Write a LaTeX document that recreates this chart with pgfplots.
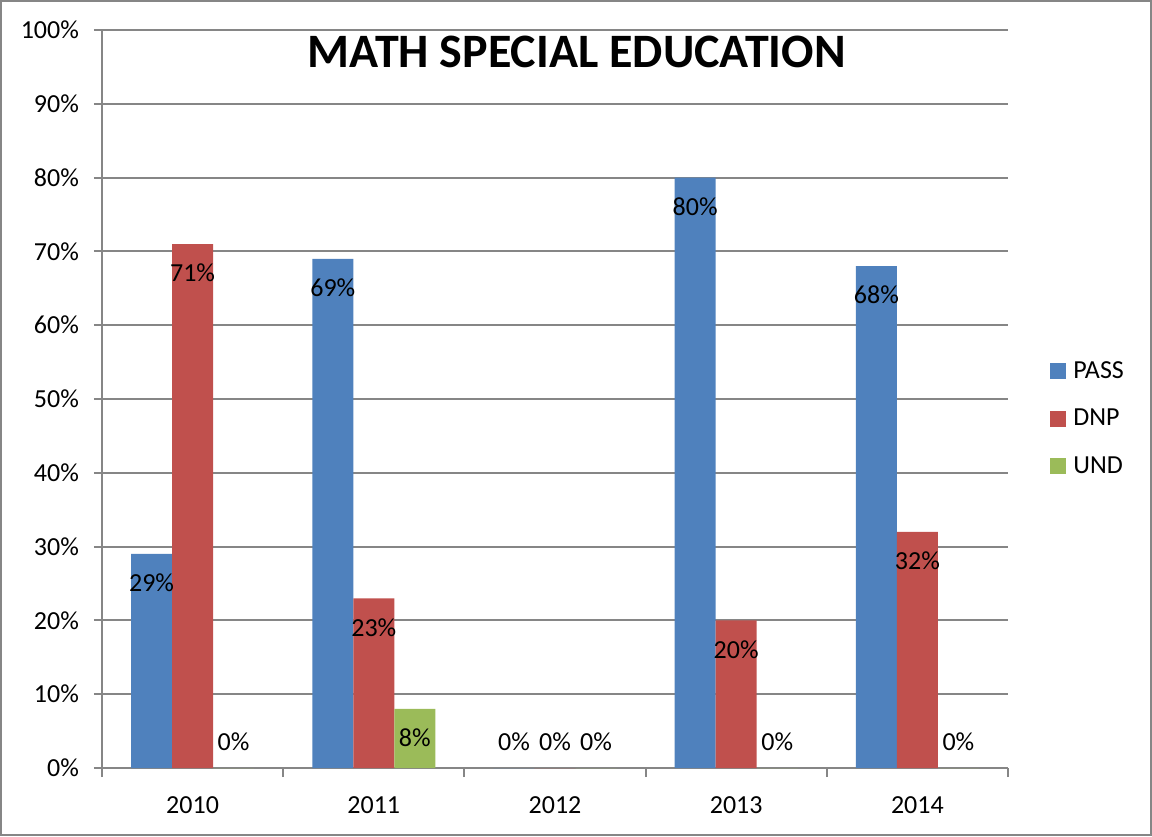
\documentclass[border=0pt]{standalone}
\usepackage{pgfplots}
\pgfplotsset{compat=1.18}
\usepackage{fontspec}
\setmainfont{Carlito}

\definecolor{passblue}{HTML}{4F81BD}
\definecolor{dnpred}{HTML}{C0504D}
\definecolor{undgreen}{HTML}{9BBB59}
\definecolor{linegray}{HTML}{868686}

\begin{document}
\begin{tikzpicture}
	\begin{axis}[
		at={(0,0)}, anchor=south west,
		scale only axis,
		width=453pt, height=369pt,
		ybar=0pt,
		bar width=0.2263,
		xmin=-0.5, xmax=4.5,
		ymin=0, ymax=100,
		xtick={0,1,2,3,4},
		xticklabels={2010,2011,2012,2013,2014},
		minor xtick={-0.5,0.5,1.5,2.5,3.5,4.5},
		ytick={0,10,...,100},
		yticklabel={\pgfmathprintnumber{\tick}\%},
		/pgf/number format/assume math mode=true,
		axis x line*=bottom,
		axis y line*=left,
		axis line style={draw=linegray, line width=1pt, -},
		tick align=outside,
		major tick length=4pt,
		minor tick length=4.5pt,
		major x tick style={draw=none},
		tick style={draw=linegray, line width=1pt},
		ymajorgrids,
		grid style={draw=linegray, line width=1pt},
		ticklabel style={font=\fontsize{13}{15}\selectfont},
		x tick label style={yshift=-7pt},
		y tick label style={xshift=-4pt},
		title={MATH SPECIAL EDUCATION},
		title style={at={(0.524,0.954)}, anchor=center, font=\bfseries\fontsize{24}{28}\selectfont},
		legend style={at={(1.0464,0.473)}, anchor=west, draw=none, fill=none,
			inner sep=0pt, row sep=12.75pt,
			nodes={inner sep=0pt, text height=9pt, text depth=2pt, font=\fontsize{13}{15}\selectfont},
			column sep=3.5pt},
		legend cell align=left,
		legend image code/.code={\fill[#1] (0pt,-4pt) rectangle (8pt,4pt);},
		visualization depends on={y \as \rawy},
		nodes near coords={\pgfmathprintnumber{\pgfplotspointmeta}\%},
		every node near coord/.append style={anchor=center, text=black,
			font=\fontsize{13}{15}\selectfont,
			yshift={ifthenelse(\rawy==0,13,-14.5)}},
	]
		\addplot[fill=passblue, draw=none] coordinates {(0,29) (1,69) (2,0) (3,80) (4,68)};
		\addplot[fill=dnpred, draw=none] coordinates {(0,71) (1,23) (2,0) (3,20) (4,32)};
		\addplot[fill=undgreen, draw=none] coordinates {(0,0) (1,8) (2,0) (3,0) (4,0)};
		\legend{PASS,DNP,UND}
	\end{axis}
	\draw[linegray, line width=1pt] (-50.5pt,-33.5pt) rectangle (524.5pt,383.5pt);
\end{tikzpicture}
\end{document}
